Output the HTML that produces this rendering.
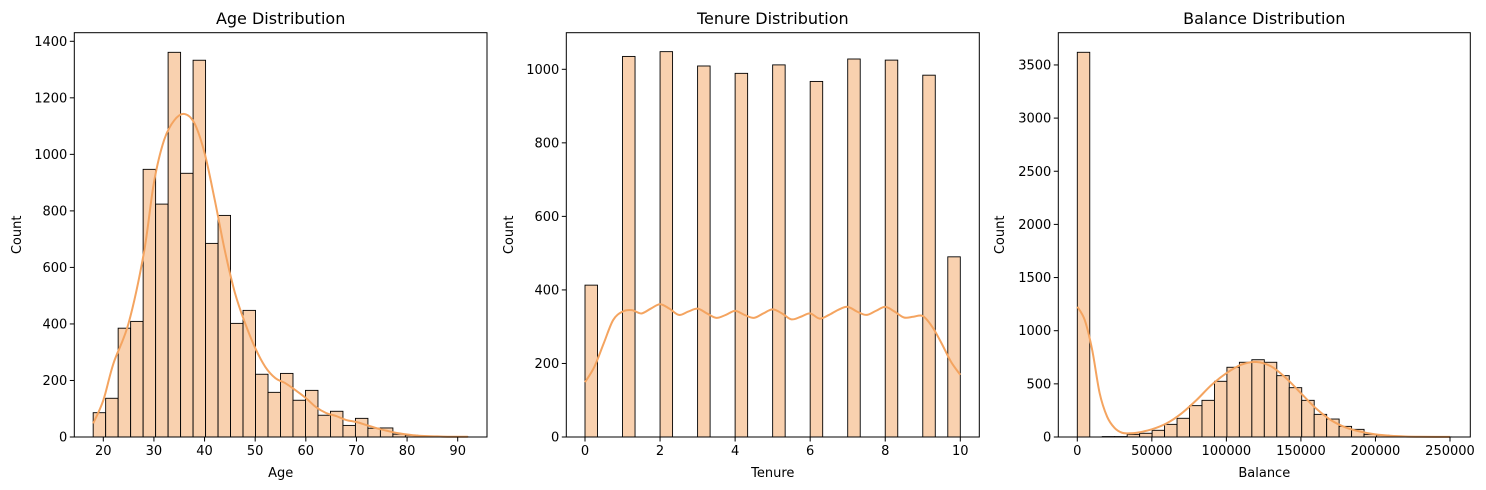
<!DOCTYPE html>
<html><head><meta charset="utf-8"><style>
html,body{margin:0;padding:0;background:#fff;}
svg{display:block;font-family:"DejaVu Sans","Liberation Sans",sans-serif;}
</style></head><body>
<svg id="chart" width="1486" height="490" viewBox="0 0 1486 490"></svg>
<script>
// ---- Age data ----
const ageBinStart = 18, ageBinWidth = 74/30;
const ageCounts = [86,137,385,409,947,824,1361,933,1333,685,784,402,448,222,158,225,130,165,77,91,41,66,31,32,10,6,3,1,1,1];
const ageKdeX = [18,20,22,25,28,30,32,34,36,38,40,42,44,46,48,50,52,54,56,58,60,62,64,66,68,70,72,74,76,78,80,82,84,86,88,90,92];
const ageKdeY = [48,130,260,403,650,900,1050,1120,1143,1110,1005,840,660,510,403,315,248,208,190,165,138,106,85,74,60,53,42,31,22,14,9,5,3,2,1,1,1];
const ageXTicks = [20,30,40,50,60,70,80,90];
const ageYTicks = [0,200,400,600,800,1000,1200,1400];
// ---- Tenure data ----
const tenBinStart = 0, tenBinWidth = 10/30;
const tenCounts = [413,0,0,1035,0,0,1048,0,0,1009,0,0,989,0,0,1012,0,0,967,0,0,1028,0,0,1025,0,0,984,0,490];
const tenKdeX = [0,0.25,0.5,0.75,1,1.25,1.5,1.75,2,2.25,2.5,2.75,3,3.25,3.5,3.75,4,4.25,4.5,4.75,5,5.25,5.5,5.75,6,6.25,6.5,6.75,7,7.25,7.5,7.75,8,8.25,8.5,8.75,9,9.25,9.5,9.75,10];
const tenKdeY = [149,191,255,318,341,345,336,349,361,349,332,341,349,336,324,332,343,332,324,336,347,336,320,327,336,322,332,346,354,341,332,343,354,341,325,327,329,300,255,205,169];
const tenXTicks = [0,2,4,6,8,10];
const tenYTicks = [0,200,400,600,800,1000];
// ---- Balance data ----
const balBinStart = 0, balBinWidth = 250898/30;
const balCounts = [3619,0,4,4,25,35,63,119,176,295,345,524,656,703,727,703,577,464,345,213,169,100,72,25,16,5,3,2,1,1];
const balKdeX = [0,5000,10000,15000,20000,25000,30000,35000,40000,50000,60000,70000,80000,90000,100000,110000,120000,130000,140000,150000,160000,170000,180000,190000,200000,210000,220000,230000,240000,250000];
const balKdeY = [1226,1100,818,412,191,85,40,35,40,72,129,223,348,489,600,680,705,664,554,412,270,160,90,50,25,12,5,2,1,1];
const balXTicks = [0,50000,100000,150000,200000,250000];
const balYTicks = [0,500,1000,1500,2000,2500,3000,3500];

const NS = "http://www.w3.org/2000/svg";
const svg = document.getElementById('chart');
function mk(tag, attrs, parent){const e=document.createElementNS(NS,tag);for(const k in attrs)e.setAttribute(k,attrs[k]);(parent||svg).appendChild(e);return e;}

function smoothPath(pts){
  let d='M'+pts[0][0].toFixed(2)+','+pts[0][1].toFixed(2);
  for(let i=0;i<pts.length-1;i++){
    const p0=pts[i-1]||pts[i], p1=pts[i], p2=pts[i+1], p3=pts[i+2]||pts[i+1];
    const c1x=p1[0]+(p2[0]-p0[0])/6, c1y=p1[1]+(p2[1]-p0[1])/6;
    const c2x=p2[0]-(p3[0]-p1[0])/6, c2y=p2[1]-(p3[1]-p1[1])/6;
    d+=` C${c1x.toFixed(2)},${c1y.toFixed(2)} ${c2x.toFixed(2)},${c2y.toFixed(2)} ${p2[0].toFixed(2)},${p2[1].toFixed(2)}`;
  }
  return d;
}

function panel(cfg){
  const g = mk('g',{});
  
  
  const L=cfg.box[0],R=cfg.box[1],T=32.7,B=437;
  const xs = v => cfg.x0px + (v-cfg.x0)*(cfg.x1px-cfg.x0px)/(cfg.x1-cfg.x0);
  const ys = v => B - v*cfg.pxPerUnit;
  cfg.counts.forEach((c,i)=>{
    if(c<=0) return;
    const a=xs(cfg.binStart+i*cfg.binWidth), b=xs(cfg.binStart+(i+1)*cfg.binWidth);
    const r = mk('rect',{x:a,y:ys(c),width:b-a,height:B-ys(c),fill:'#f9d1af',stroke:'#000','stroke-width':0.9},g);
    
    
  });
  const pts = cfg.kdeX.map((x,i)=>[xs(x), ys(cfg.kdeY[i])]);
  const p = mk('path',{d:smoothPath(pts),fill:'none',stroke:'#f4a460','stroke-width':2,'stroke-linejoin':'round'},g);
  
  
  const f = mk('rect',{x:L,y:T,width:R-L,height:B-T,fill:'none',stroke:'#000','stroke-width':1},g);
  
  
  cfg.xTicks.forEach(t=>{
    const x=xs(t);
    mk('line',{x1:x,x2:x,y1:B,y2:B+4.5,stroke:'#000','stroke-width':1},g);
    const tx = mk('text',{x:x,y:B+18,'text-anchor':'middle','font-size':13,fill:'#000'},g);
    tx.textContent=t;
    
    
  });
  cfg.yTicks.forEach(t=>{
    const y=ys(t);
    mk('line',{x1:L-4.5,x2:L,y1:y,y2:y,stroke:'#000','stroke-width':1},g);
    const tx = mk('text',{x:L-7,y:y+4.5,'text-anchor':'end','font-size':13,fill:'#000'},g);
    tx.textContent=t;
    
    
  });
  const tt = mk('text',{x:(L+R)/2,y:24,'text-anchor':'middle','font-size':16,fill:'#000'},g);
  tt.textContent=cfg.title;
  
  
  const xl = mk('text',{x:(L+R)/2,y:477,'text-anchor':'middle','font-size':13,fill:'#000'},g);
  xl.textContent=cfg.xlabel;
  
  
  const yl = mk('text',{x:0,y:0,'text-anchor':'middle','font-size':13,fill:'#000',transform:`translate(${cfg.ylx},${(T+B)/2}) rotate(-90)`},g);
  yl.textContent='Count';
  
  
}

panel({name:'age-histogram',box:[74.3,487],x0:20,x1:90,x0px:103.3,x1px:457.7,pxPerUnit:395.7/1400,
  binStart:ageBinStart,binWidth:ageBinWidth,counts:ageCounts,kdeX:ageKdeX,kdeY:ageKdeY,
  xTicks:ageXTicks,yTicks:ageYTicks,title:'Age Distribution',xlabel:'Age',ylx:21});
panel({name:'tenure-histogram',box:[566.3,979.3],x0:0,x1:10,x0px:585,x1px:960.3,pxPerUnit:367.7/1000,
  binStart:tenBinStart,binWidth:tenBinWidth,counts:tenCounts,kdeX:tenKdeX,kdeY:tenKdeY,
  xTicks:tenXTicks,yTicks:tenYTicks,title:'Tenure Distribution',xlabel:'Tenure',ylx:513});
panel({name:'balance-histogram',box:[1058.3,1470.3],x0:0,x1:250000,x0px:1077.3,x1px:1450,pxPerUnit:0.1063,
  binStart:balBinStart,binWidth:balBinWidth,counts:balCounts,kdeX:balKdeX,kdeY:balKdeY,
  xTicks:balXTicks,yTicks:balYTicks,title:'Balance Distribution',xlabel:'Balance',ylx:1004});
</script>
</body></html>
